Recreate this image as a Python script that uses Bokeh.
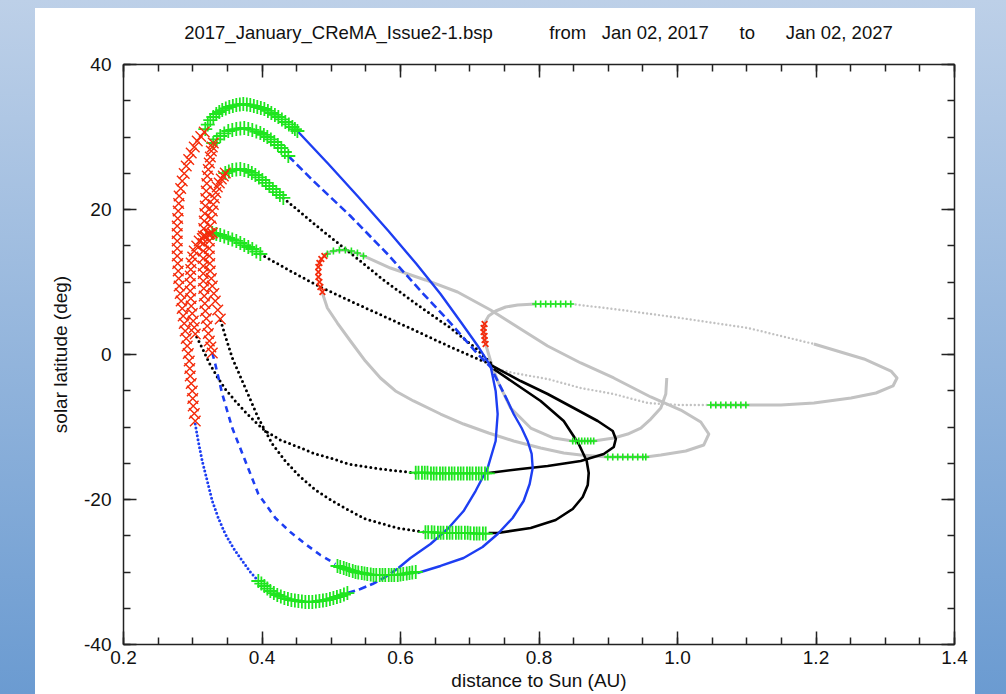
from bokeh.plotting import figure
from bokeh.models import Range1d, LinearAxis, FixedTicker, NumeralTickFormatter, Div
from bokeh.layouts import column
from bokeh.embed import file_html
from bokeh.resources import INLINE

NB = "&nbsp;"
TITLE = ("2017_January_CReMA_Issue2-1.bsp" + NB * 11 + "from" + NB * 3 + "Jan 02, 2017"
         + NB * 6 + "to" + NB * 6 + "Jan 02, 2027")
X_LABEL = "distance to Sun (AU)"
Y_LABEL = "solar latitude (deg)"

x_major_ticks = [0.2, 0.4, 0.6, 0.8, 1.0, 1.2, 1.4]
x_minor_ticks = [0.2, 0.25, 0.3, 0.35, 0.4, 0.45, 0.5, 0.55, 0.6, 0.65, 0.7, 0.75, 0.8,
                 0.85, 0.9, 0.95, 1.0, 1.05, 1.1, 1.15, 1.2, 1.25, 1.3, 1.35, 1.4]
y_major_ticks = [-40, -20, 0, 20, 40]
y_minor_ticks = [-40, -35, -30, -25, -20, -15, -10, -5, 0, 5, 10, 15, 20, 25, 30, 35, 40]

# ---------------- trajectory segments (AU, deg) ----------------
# cruise phase (gray)
gray_launch_r = [0.9845, 0.9831, 0.9759, 0.9614, 0.9470, 0.9282, 0.9080, 0.8790, 0.8487, 0.8212, 0.7880,
                 0.7591, 0.7403, 0.7301, 0.7229, 0.7200, 0.7214, 0.7272, 0.7374, 0.7518, 0.7692, 0.7952]
gray_launch_lat = [-3.24, -5.45, -7.38, -8.90, -10.14, -10.97, -11.52, -11.93, -11.93, -11.52, -10.14,
                   -7.38, -3.66, -0.90, 1.45, 3.10, 4.34, 5.31, 6.00, 6.55, 6.83, 6.97]
gray_out_r = [0.7952, 0.8458, 0.9080, 1.0047, 1.1016, 1.1970]
gray_out_lat = [6.97, 6.97, 6.28, 5.03, 3.66, 1.45]
gray_far_r = [1.1970, 1.2693, 1.3083, 1.3170, 1.3112, 1.2866, 1.2505, 1.1970, 1.1493, 1.0987, 1.0481]
gray_far_lat = [1.45, -0.62, -2.28, -3.24, -4.34, -5.31, -6.00, -6.69, -6.97, -6.97, -6.97]
gray_back_r = [1.0481, 1.0047, 0.9571, 0.9080, 0.8603, 0.8125, 0.7634, 0.7330]
gray_back_lat = [-6.97, -6.97, -6.69, -5.45, -4.62, -3.38, -2.55, -1.86]
gray_loop_r = [0.4915, 0.5031, 0.5204, 0.5378, 0.5465, 0.5855, 0.6361, 0.6824, 0.7301, 0.7735, 0.8125,
               0.8603, 0.9080, 0.9614, 1.0047, 1.0336, 1.0452, 1.0380, 1.0120, 0.9759, 0.9542, 0.8993,
               0.8603, 0.8357, 0.8024, 0.7634, 0.7272, 0.6911, 0.6578, 0.6188, 0.5927, 0.5710, 0.5493,
               0.5277, 0.5089, 0.4944, 0.4872]
gray_loop_lat = [13.86, 14.28, 14.41, 14.00, 13.59, 11.93, 10.28, 8.62, 6.14, 3.52, 1.17,
                 -1.17, -3.24, -5.86, -7.66, -9.31, -10.97, -12.48, -13.31, -13.86, -14.14, -14.14,
                 -13.86, -13.59, -12.90, -11.93, -10.83, -9.59, -8.21, -6.41, -5.03, -3.24, -0.90,
                 1.86, 4.34, 6.41, 8.48]

# high-inclination orbits (blue)
blue_a_r = [0.4511, 0.4959, 0.5392, 0.5826, 0.6231, 0.6578, 0.6881, 0.7127, 0.7301, 0.7374, 0.7403,
            0.7374, 0.7258, 0.7084, 0.6911, 0.6694, 0.6433, 0.6144, 0.5970]
blue_a_lat = [30.83, 26.28, 21.72, 17.03, 12.48, 8.34, 4.34, 1.03, -1.59, -5.03, -8.21,
              -11.93, -15.66, -18.83, -21.59, -23.93, -26.14, -28.07, -29.45]
blue_b_r = [0.5233, 0.5421, 0.5595, 0.5783, 0.5970]
blue_b_lat = [-32.90, -32.34, -31.66, -30.69, -29.45]
blue_c_r = [0.3036, 0.3079, 0.3137, 0.3210, 0.3282, 0.3369, 0.3470, 0.3586, 0.3716, 0.3831, 0.3947]
blue_c_lat = [-9.59, -11.93, -14.69, -17.45, -20.21, -22.55, -24.76, -26.69, -28.48, -30.00, -31.24]
blue_d_r = [0.3282, 0.3325, 0.3426, 0.3571, 0.3759, 0.3947, 0.4193, 0.4409, 0.4626, 0.4843, 0.5060]
blue_d_lat = [0.21, -1.31, -5.45, -10.14, -14.69, -19.24, -22.55, -24.48, -26.14, -27.66, -28.90]
blue_e_r = [0.6245, 0.6578, 0.6911, 0.7185, 0.7403, 0.7619, 0.7778, 0.7865, 0.7909, 0.7894, 0.7836,
            0.7749, 0.7634, 0.7547]
blue_e_lat = [-30.14, -29.17, -28.07, -26.55, -24.76, -22.55, -20.21, -17.86, -15.66, -13.72, -11.93,
              -10.14, -8.21, -6.41]
blue_f_r = [0.4380, 0.4742, 0.5277, 0.5812, 0.6332, 0.6723, 0.7113, 0.7301, 0.7417, 0.7547]
blue_f_lat = [27.38, 23.93, 19.10, 13.86, 8.34, 4.34, 0.07, -1.72, -3.93, -6.41]

# low-inclination orbits (black)
black_a_r = [0.7301, 0.7735, 0.8125, 0.8501, 0.8848, 0.9065, 0.9109, 0.9080, 0.8935, 0.8603, 0.8125,
             0.7735, 0.7272]
black_a_lat = [-1.45, -3.66, -5.45, -7.38, -9.17, -10.55, -11.66, -12.76, -13.72, -14.69, -15.38,
               -15.79, -16.34]
black_b_r = [0.6216, 0.5710, 0.5248, 0.4987, 0.4771, 0.4525, 0.4265, 0.4048, 0.3904, 0.3759, 0.3614,
             0.3470, 0.3354, 0.3239, 0.3137, 0.3036]
black_b_lat = [-16.34, -15.79, -15.10, -14.28, -13.72, -12.76, -11.79, -10.55, -9.31, -7.93, -6.41,
               -4.76, -3.10, -1.17, 0.90, 2.83]
black_c_r = [0.7345, 0.7663, 0.8024, 0.8357, 0.8574, 0.8689, 0.8718, 0.8704, 0.8631, 0.8487, 0.8241,
             0.7880, 0.7403, 0.7272]
black_c_lat = [-2.00, -4.07, -6.41, -9.17, -12.34, -14.69, -16.34, -18.00, -19.66, -21.31, -22.83,
               -23.93, -24.62, -24.62]
black_d_r = [0.6332, 0.5956, 0.5493, 0.5248, 0.5016, 0.4771, 0.4525, 0.4337, 0.4149, 0.3947, 0.3759,
             0.3571, 0.3470, 0.3397]
black_d_lat = [-24.48, -23.93, -22.69, -21.45, -20.21, -18.69, -16.62, -14.69, -12.34, -8.76, -4.62,
               -0.48, 2.55, 4.90]
black_e_r = [0.4308, 0.4843, 0.5277, 0.5754, 0.6289, 0.6723, 0.7084, 0.7301]
black_e_lat = [21.59, 17.31, 14.00, 10.28, 6.55, 3.66, 0.90, -1.17]
black_f_r = [0.3976, 0.4409, 0.4843, 0.5306, 0.5783, 0.6260, 0.6723, 0.7084, 0.7301]
black_f_lat = [13.86, 11.52, 9.31, 7.24, 5.17, 3.10, 1.03, -0.48, -1.31]

# ---------------- green "+" windows ----------------
g_top1_r = [0.3181, 0.3217, 0.3253, 0.3297, 0.3340, 0.3383, 0.3426, 0.3477, 0.3528, 0.3579, 0.3629,
            0.3680, 0.3730, 0.3781, 0.3831, 0.3882, 0.3932, 0.3983, 0.4034, 0.4085, 0.4135, 0.4186,
            0.4236, 0.4287, 0.4337, 0.4388, 0.4439, 0.4475, 0.4511]
g_top1_lat = [31.10, 31.72, 32.34, 32.76, 33.17, 33.45, 33.72, 33.93, 34.14, 34.28, 34.41,
              34.48, 34.55, 34.48, 34.41, 34.28, 34.14, 34.00, 33.86, 33.59, 33.31, 33.04,
              32.76, 32.42, 32.07, 31.73, 31.38, 31.10, 30.83]
g_top2_r = [0.3296, 0.3347, 0.3397, 0.3455, 0.3513, 0.3571, 0.3629, 0.3687, 0.3744, 0.3802, 0.3860,
            0.3918, 0.3976, 0.4027, 0.4077, 0.4128, 0.4178, 0.4229, 0.4279, 0.4330, 0.4380]
g_top2_lat = [29.17, 29.66, 30.14, 30.49, 30.83, 30.97, 31.10, 31.17, 31.24, 31.10, 30.97,
              30.76, 30.55, 30.28, 30.00, 29.66, 29.31, 28.90, 28.48, 27.93, 27.38]
g_top3_r = [0.3470, 0.3521, 0.3571, 0.3629, 0.3687, 0.3745, 0.3802, 0.3853, 0.3904, 0.3955, 0.4005,
            0.4056, 0.4106, 0.4157, 0.4207, 0.4258, 0.4308]
g_top3_lat = [25.03, 25.24, 25.45, 25.52, 25.59, 25.45, 25.31, 25.04, 24.76, 24.42, 24.07,
              23.66, 23.24, 22.83, 22.41, 22.00, 21.59]
g_top4_r = [0.3282, 0.3340, 0.3397, 0.3455, 0.3513, 0.3571, 0.3629, 0.3687, 0.3744, 0.3802, 0.3860,
            0.3918, 0.3976]
g_top4_lat = [16.76, 16.62, 16.48, 16.28, 16.07, 15.87, 15.66, 15.38, 15.10, 14.83, 14.55, 14.21, 13.86]
g_bot1_r = [0.622, 0.626, 0.631, 0.635, 0.639, 0.644, 0.648, 0.652, 0.657, 0.661, 0.665, 0.670, 0.674,
            0.678, 0.683, 0.687, 0.691, 0.696, 0.700, 0.704, 0.709, 0.713, 0.717, 0.722, 0.726]
g_bot1_lat = [-16.3, -16.3, -16.3, -16.3, -16.3, -16.4, -16.4, -16.4, -16.4, -16.4, -16.4, -16.4, -16.4,
              -16.4, -16.4, -16.4, -16.4, -16.4, -16.4, -16.4, -16.4, -16.4, -16.4, -16.4, -16.4]
g_bot2_r = [0.636, 0.640, 0.645, 0.649, 0.654, 0.658, 0.662, 0.667, 0.671, 0.675, 0.680, 0.684, 0.688,
            0.693, 0.697, 0.701, 0.706, 0.710, 0.714, 0.719, 0.723]
g_bot2_lat = [-24.5, -24.5, -24.5, -24.55, -24.6, -24.6, -24.6, -24.6, -24.6, -24.6, -24.6, -24.6, -24.6,
              -24.6, -24.6, -24.65, -24.7, -24.7, -24.7, -24.7, -24.7]
g_bot3_r = [0.509, 0.513, 0.518, 0.522, 0.526, 0.531, 0.535, 0.539, 0.544, 0.548, 0.552, 0.557, 0.561,
            0.565, 0.570, 0.574, 0.578, 0.583, 0.587, 0.591, 0.596, 0.600, 0.604, 0.609, 0.613, 0.617, 0.622]
g_bot3_lat = [-29.17, -29.31, -29.45, -29.59, -29.72, -29.86, -30.00, -30.07, -30.14, -30.21, -30.28,
              -30.35, -30.41, -30.41, -30.41, -30.41, -30.41, -30.41, -30.41, -30.41, -30.41, -30.35,
              -30.28, -30.21, -30.14, -30.07, -30.00]
g_bot4_r = [0.3947, 0.3991, 0.4034, 0.4077, 0.4120, 0.4171, 0.4221, 0.4272, 0.4323, 0.4374, 0.4424,
            0.4475, 0.4525, 0.4576, 0.4626, 0.4677, 0.4727, 0.4778, 0.4829, 0.4880, 0.4930, 0.4981,
            0.5031, 0.5082, 0.5132, 0.5183, 0.5233]
g_bot4_lat = [-31.24, -31.59, -31.93, -32.28, -32.62, -32.90, -33.17, -33.38, -33.59, -33.73, -33.86,
              -33.93, -34.00, -34.07, -34.14, -34.14, -34.14, -34.07, -34.00, -33.93, -33.86, -33.73,
              -33.59, -33.45, -33.31, -33.11, -32.90]

gs_a_r = [0.7952, 0.8024, 0.8097, 0.8169, 0.8241, 0.8313, 0.8386, 0.8458]
gs_a_lat = [6.97, 6.97, 6.97, 6.97, 6.97, 6.97, 6.97, 6.97]
gs_b_r = [1.0481, 1.0553, 1.0625, 1.0698, 1.0770, 1.0842, 1.0915, 1.0987]
gs_b_lat = [-6.97, -6.97, -6.97, -6.97, -6.97, -6.97, -6.97, -6.97]
gs_c_r = [0.8487, 0.8530, 0.8574, 0.8617, 0.8660, 0.8704, 0.8747, 0.8790]
gs_c_lat = [-11.93, -11.93, -11.93, -11.93, -11.93, -11.93, -11.93, -11.93]
gs_d_r = [0.8993, 0.9065, 0.9137, 0.9210, 0.9282, 0.9354, 0.9426, 0.9499, 0.9542]
gs_d_lat = [-14.14, -14.14, -14.14, -14.14, -14.14, -14.14, -14.14, -14.14, -14.14]
gs_e_r = [0.4944, 0.5031, 0.5118, 0.5204, 0.5291, 0.5378, 0.5465]
gs_e_lat = [13.86, 14.28, 14.41, 14.41, 14.28, 14.00, 13.59]

# ---------------- red "x" perihelion passes ----------------
r_1_r = [0.3166, 0.3116, 0.3065, 0.3022, 0.2978, 0.2942, 0.2906, 0.2877, 0.2848, 0.2826, 0.2804,
         0.2797, 0.2790, 0.2783, 0.2776, 0.2776, 0.2776, 0.2776, 0.2776, 0.2783, 0.2790, 0.2797,
         0.2804, 0.2819, 0.2833, 0.2848, 0.2862, 0.2877, 0.2891, 0.2906, 0.2920, 0.2935, 0.2949,
         0.2957, 0.2964, 0.2978, 0.2993, 0.3000, 0.3007, 0.3022, 0.3036]
r_1_lat = [30.69, 30.07, 29.45, 28.62, 27.79, 26.90, 26.00, 24.97, 23.93, 22.90, 21.86,
           20.83, 19.79, 18.76, 17.72, 16.69, 15.66, 14.63, 13.59, 12.56, 11.52, 10.49,
           9.45, 8.42, 7.38, 6.35, 5.31, 4.28, 3.24, 2.21, 1.17, 0.14, -0.90,
           -1.94, -2.97, -4.00, -5.03, -6.07, -7.10, -8.14, -9.17]
r_2_r = [0.3282, 0.3261, 0.3239, 0.3225, 0.3210, 0.3196, 0.3181, 0.3174, 0.3166, 0.3159, 0.3152,
         0.3152, 0.3152, 0.3152, 0.3152, 0.3152, 0.3152, 0.3159, 0.3166, 0.3174, 0.3181, 0.3188,
         0.3195, 0.3203, 0.3210, 0.3225, 0.3239, 0.3254, 0.3268, 0.3282, 0.3296]
r_2_lat = [0.21, 1.04, 1.86, 2.90, 3.93, 4.97, 6.00, 7.04, 8.07, 9.11, 10.14,
           11.18, 12.21, 13.25, 14.28, 15.31, 16.34, 17.38, 18.41, 19.45, 20.48, 21.52,
           22.55, 23.59, 24.62, 25.52, 26.41, 27.24, 28.07, 28.62, 29.17]
r_3_r = [0.3397, 0.3361, 0.3325, 0.3304, 0.3282, 0.3268, 0.3253, 0.3246, 0.3239, 0.3239, 0.3239,
         0.3246, 0.3253, 0.3268, 0.3282, 0.3297, 0.3311, 0.3333, 0.3354, 0.3383, 0.3412, 0.3441, 0.3470]
r_3_lat = [4.90, 6.14, 7.38, 8.42, 9.45, 10.49, 11.52, 12.56, 13.59, 14.63, 15.66,
           16.69, 17.72, 18.76, 19.79, 20.69, 21.59, 22.35, 23.10, 23.66, 24.21, 24.62, 25.03]
r_4_r = [0.3036, 0.3022, 0.3007, 0.2993, 0.2978, 0.2971, 0.2964, 0.2964, 0.2964, 0.2971, 0.2978,
         0.3000, 0.3022, 0.3058, 0.3094, 0.3138, 0.3181, 0.3232, 0.3282]
r_4_lat = [2.83, 3.73, 4.62, 5.66, 6.69, 7.73, 8.76, 9.80, 10.83, 11.73, 12.62,
           13.45, 14.28, 14.97, 15.66, 16.00, 16.34, 16.55, 16.76]
rs_a_r = [0.4872, 0.4843, 0.4829, 0.4814, 0.4814, 0.4814, 0.4829, 0.4857, 0.4901]
rs_a_lat = [8.62, 9.31, 10.00, 10.69, 11.38, 12.07, 12.62, 13.17, 13.59]
rs_b_r = [0.7229, 0.7214, 0.7214, 0.7200, 0.7200, 0.7214]
rs_b_lat = [1.45, 2.00, 2.55, 3.10, 3.66, 4.21]

GRAY = "#c2c2c2"
BLUE = "#1d3ef2"
BLACK = "#000000"
GREEN = "#1fe51f"
RED = "#f42c0c"
FONT = "Liberation Sans"

title_div = Div(
    text=('<div style="width:1007px;text-align:center;white-space:nowrap;'
          "font-family:'Liberation Sans',Arial,sans-serif;font-size:18.5px;line-height:20px;"
          'padding-top:15px;color:#111111;">' + TITLE + '</div>'),
    width=940, height=42, margin=(0, 0, 0, 0),
    styles={"background-color": "white", "overflow": "visible"})

p = figure(width=940, height=644, x_range=Range1d(0.2, 1.4), y_range=Range1d(-40, 40),
           output_backend="svg", toolbar_location=None,
           min_border_left=88, min_border_right=21, min_border_top=14, min_border_bottom=50,
           background_fill_color="white", border_fill_color="white", outline_line_color=None)
p.title.visible = False
p.xgrid.visible = False
p.ygrid.visible = False


def style_axis(ax, ticks, minor, fmt, show_labels):
    ax.ticker = FixedTicker(ticks=ticks, minor_ticks=minor)
    ax.formatter = NumeralTickFormatter(format=fmt)
    ax.axis_line_color = "#222222"
    ax.axis_line_width = 1.5
    ax.major_tick_line_color = "#222222"
    ax.minor_tick_line_color = "#222222"
    ax.major_tick_line_width = 1.5
    ax.minor_tick_line_width = 1.5
    ax.major_tick_in = 13
    ax.major_tick_out = 0
    ax.minor_tick_in = 7
    ax.minor_tick_out = 0
    if show_labels:
        ax.major_label_text_font = FONT
        ax.major_label_text_font_size = "19px"
        ax.major_label_text_color = "#111111"
        ax.axis_label_text_font = FONT
        ax.axis_label_text_font_size = "19px"
        ax.axis_label_text_font_style = "normal"
        ax.axis_label_text_color = "#111111"
    else:
        ax.major_label_text_font_size = "1px"
        ax.major_label_text_color = None
        ax.major_label_standoff = 0
        ax.axis_label = None


xa = p.xaxis[0]
style_axis(xa, x_major_ticks, x_minor_ticks, "0.0", True)
xa.axis_label = X_LABEL
xa.major_label_standoff = 6
xa.axis_label_standoff = 3
ya = p.yaxis[0]
style_axis(ya, y_major_ticks, y_minor_ticks, "0", True)
ya.axis_label = Y_LABEL
ya.major_label_standoff = 12
ya.axis_label_standoff = 10

top = LinearAxis()
style_axis(top, x_major_ticks, x_minor_ticks, "0.0", False)
p.add_layout(top, "above")
right = LinearAxis()
style_axis(right, y_major_ticks, y_minor_ticks, "0", False)
p.add_layout(right, "right")

SOLID = "solid"
DOT = "0 5"
DOTF = "0 4"
DASH = "8 4"


def seg(r, lat, color, dash, width, cap="butt"):
    p.line(r, lat, line_color=color, line_width=width, line_dash=dash, line_cap=cap, line_join="round")


# gray cruise
seg(gray_loop_r, gray_loop_lat, GRAY, SOLID, 3)
seg(gray_launch_r, gray_launch_lat, GRAY, SOLID, 3)
seg(gray_out_r, gray_out_lat, GRAY, DOTF, 2.4, "round")
seg(gray_far_r, gray_far_lat, GRAY, SOLID, 3)
seg(gray_back_r, gray_back_lat, GRAY, DOTF, 2.4, "round")

# black
seg(black_a_r, black_a_lat, BLACK, SOLID, 2.6)
seg(black_c_r, black_c_lat, BLACK, SOLID, 2.6)
seg(black_b_r, black_b_lat, BLACK, DOT, 3, "round")
seg(black_d_r, black_d_lat, BLACK, DOT, 3, "round")
seg(black_e_r, black_e_lat, BLACK, DOT, 3, "round")
seg(black_f_r, black_f_lat, BLACK, DOT, 3, "round")

# blue
seg(blue_a_r, blue_a_lat, BLUE, SOLID, 2.4)
seg(blue_e_r, blue_e_lat, BLUE, SOLID, 2.4)
seg(blue_b_r, blue_b_lat, BLUE, DASH, 2.6)
seg(blue_d_r, blue_d_lat, BLUE, "6 5", 2.6)
seg(blue_f_r, blue_f_lat, BLUE, DASH, 2.6)
seg(blue_c_r, blue_c_lat, BLUE, DOTF, 3, "round")

# green windows
for rr, ll in [(g_top1_r, g_top1_lat), (g_top2_r, g_top2_lat), (g_top3_r, g_top3_lat),
               (g_top4_r, g_top4_lat), (g_bot1_r, g_bot1_lat), (g_bot2_r, g_bot2_lat),
               (g_bot3_r, g_bot3_lat), (g_bot4_r, g_bot4_lat)]:
    p.scatter(rr, ll, marker="cross", size=14, line_color=GREEN, line_width=1.8)
for rr, ll in [(gs_a_r, gs_a_lat), (gs_b_r, gs_b_lat), (gs_c_r, gs_c_lat),
               (gs_d_r, gs_d_lat), (gs_e_r, gs_e_lat)]:
    p.scatter(rr, ll, marker="cross", size=7, line_color=GREEN, line_width=1.6)

# red perihelion passes
for rr, ll in [(r_1_r, r_1_lat), (r_2_r, r_2_lat), (r_3_r, r_3_lat), (r_4_r, r_4_lat)]:
    p.scatter(rr, ll, marker="x", size=15, line_color=RED, line_width=1.4)
for rr, ll in [(rs_a_r, rs_a_lat), (rs_b_r, rs_b_lat)]:
    p.scatter(rr, ll, marker="x", size=8, line_color=RED, line_width=1.8)

p.margin = (0, 0, 0, 0)
panel = column(title_div, p, spacing=0, margin=(8, 31, 0, 35),
               styles={"background-color": "white"})
root = column(panel, spacing=0,
              styles={"background": "linear-gradient(180deg, #bdd0e8 0%, #6b9bd1 100%)"})

open("out.html", "w").write(file_html(root, INLINE))
